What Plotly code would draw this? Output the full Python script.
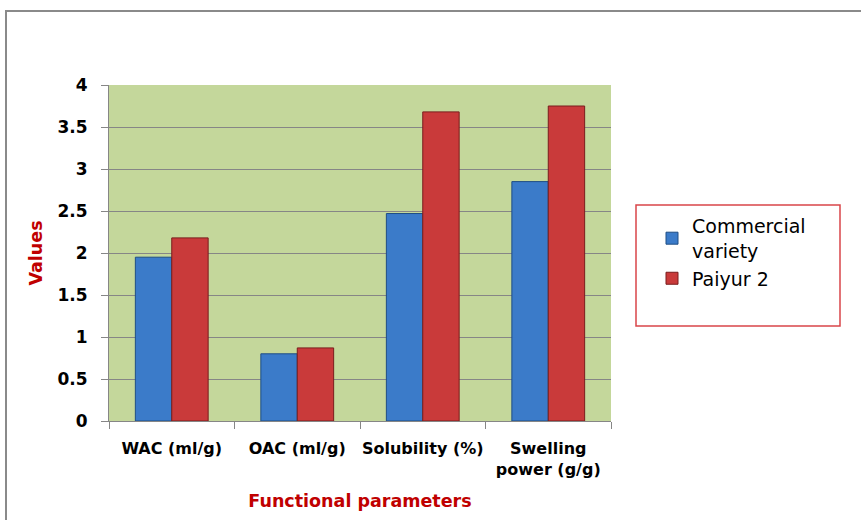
import plotly.graph_objects as go

categories = ["WAC (ml/g)", "OAC (ml/g)", "Solubility (%)", "Swelling<br>power (g/g)"]
commercial = [1.95, 0.80, 2.47, 2.85]
paiyur2 = [2.18, 0.87, 3.68, 3.75]
y_ticks = [0, 0.5, 1, 1.5, 2, 2.5, 3, 3.5, 4]
y_tick_labels = ["0", "0.5", "1", "1.5", "2", "2.5", "3", "3.5", "4"]

FONT = "DejaVu Sans, sans-serif"

fig = go.Figure()
fig.add_trace(go.Bar(name="Commercial<br>variety", x=categories, y=commercial,
                     marker=dict(color="#3b7bc9", line=dict(color="#1f4e85", width=1))))
fig.add_trace(go.Bar(name="Paiyur 2", x=categories, y=paiyur2,
                     marker=dict(color="#c93a3a", line=dict(color="#7a1d1d", width=1))))

L, R, T, B = 109, 611, 85, 421
W, H = 861, 520
pw, ph = R - L, B - T

def px(x):
    return (x - L) / pw

def py(y):
    return (B - y) / ph

fig.update_layout(
    width=W, height=H,
    margin=dict(l=L, r=W - R, t=T, b=H - B, autoexpand=False),
    paper_bgcolor="white",
    plot_bgcolor="#c4d79b",
    barmode="group",
    bargap=0.42,
    bargroupgap=0,
    font=dict(family=FONT, color="black"),
    showlegend=True,
    legend=dict(x=px(652), y=py(207), xanchor="left", yanchor="top",
                font=dict(size=19, family=FONT, color="black"),
                bgcolor="rgba(0,0,0,0)", borderwidth=0,
                tracegroupgap=9),
    xaxis=dict(
        tickfont=dict(size=16, family=FONT, color="black", weight="bold"),
        tickangle=0,
        showline=True, linecolor="#868686", linewidth=1,
        ticks="outside", ticklen=7, tickcolor="#868686", tickson="boundaries",
        ticklabelstandoff=13,
        title=dict(text="Functional parameters",
                   font=dict(size=17.5, family=FONT, color="#c00000", weight="bold"), standoff=16),
    ),
    yaxis=dict(
        range=[0, 4],
        tickvals=y_ticks, ticktext=y_tick_labels,
        tickfont=dict(size=17, family=FONT, color="black", weight="bold"),
        showline=True, linecolor="#868686", linewidth=1,
        ticks="outside", ticklen=7, tickcolor="#868686",
        ticklabelstandoff=10,
        showgrid=True, gridcolor="#868686", gridwidth=1,
        zeroline=False,
        title=dict(text="Values",
                   font=dict(size=17.5, family=FONT, color="#c00000", weight="bold"), standoff=10),
    ),
    shapes=[
        dict(type="rect", xref="paper", yref="paper",
             x0=px(6), x1=px(900), y0=py(560), y1=py(11),
             line=dict(color="#8a8a8a", width=2), fillcolor="rgba(0,0,0,0)", layer="below"),
        dict(type="rect", xref="paper", yref="paper",
             x0=px(636), x1=px(840), y0=py(326), y1=py(205),
             line=dict(color="#d9454a", width=1.5), fillcolor="white"),
    ],
)

fig.write_html("out.html", config={"displayModeBar": False},
               post_script="document.body.style.margin='0';")
